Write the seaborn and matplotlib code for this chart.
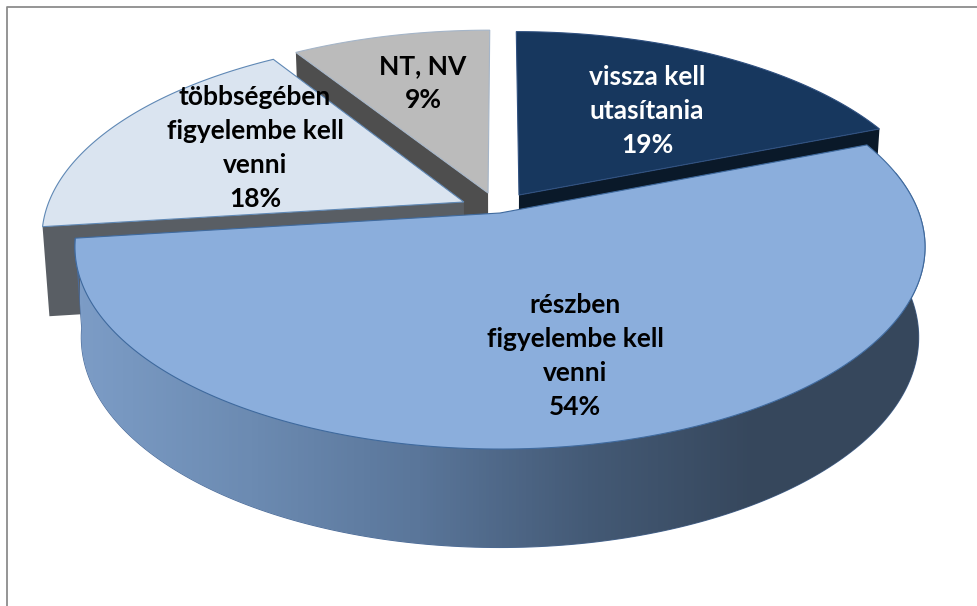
import numpy as np
import matplotlib.pyplot as plt
from matplotlib.patches import Polygon
import seaborn as sns

categories = ["vissza kell\nutasítania", "részben\nfigyelembe kell\nvenni", "többségében\nfigyelembe kell\nvenni", "NT, NV"]
values = [19, 54, 18, 9]

sns.set_theme(style="white")
plt.rcParams['font.family'] = ['Lato', 'DejaVu Sans']

top_colors = sns.color_palette(["#17375E", "#8BAEDC", "#DAE4F0", "#BBBBBB"])
side_colors = sns.color_palette(["#0A1929", "#36475C", "#595E64", "#4E4E4E"])
edge_colors = ["#2F5080", "#3F6A9E", "#5F88B5", "#A5B5C8"]
text_colors = ["white", "black", "black", "black"]

# how far each slice is pulled out, in units of the radius
pull_x = [0.046, 0.0, -0.087, -0.029]
pull_y = [0.093, 0.0, 0.0565, 0.1035]
label_xy = [(647, 111), (575, 356), (255, 148), (423, 83)]

# slant of the view
CX, A, B, K = 500, 419, 196.4, 0.168
TOP = (213, 1.0, 1.0)
BOTTOM = (302, 0.985, 1.04)


def project(theta, radius, px, py, level):
    y0, sx, sy = level
    x = radius * np.cos(theta) + px
    y = radius * np.sin(theta) + py
    w = 1 + K * y
    return CX + A * sx * x / w, y0 - B * sy * y / w


def rim(a, b, px, py, level):
    t = np.linspace(a, b, 200)
    return np.column_stack(project(t, 1.0, px, py, level))


fig = plt.figure(figsize=(9.78, 6.06), dpi=100)
ax = fig.add_axes([0, 0, 1, 1])

# slices run clockwise from twelve o'clock
ends = np.pi / 2 - np.cumsum(values) / np.sum(values) * 2 * np.pi
starts = np.r_[np.pi / 2, ends[:-1]]

# painted back to front
for z, i in enumerate([3, 2, 0, 1]):
    z = z + 2
    a, b, px, py = starts[i], ends[i], pull_x[i], pull_y[i]
    apex_top = np.array(project(0.0, 0.0, px, py, TOP))
    apex_bot = np.array(project(0.0, 0.0, px, py, BOTTOM))
    arc_top = rim(a, b, px, py, TOP)

    if i == 1:
        # outer wall of the big slice, shaded left to right
        wall_top = rim(b, b + np.radians(185), px, py, TOP)
        wall_bot = rim(b, b + np.radians(185), px, py, BOTTOM)
        wall = Polygon(np.vstack([wall_top, wall_bot[::-1]]), closed=True, facecolor="none",
                       edgecolor="#4A6A98", linewidth=0.8, zorder=z)
        ax.add_patch(wall)
        cmap = sns.blend_palette(["#7C9CC6", "#6C8BB2", "#5A769A", "#445A76", "#36475C", "#36475C"], as_cmap=True)
        im = ax.imshow(np.linspace(0, 1, 256).reshape(1, -1), cmap=cmap, aspect='auto',
                       extent=[80, 925, 560, 230], zorder=z)
        im.set_clip_path(wall)
    else:
        # cut face that looks at the viewer
        angle = b if i == 0 else a
        out_top = np.array(project(angle, 1.0, px, py, TOP))
        out_bot = np.array(project(angle, 1.0, px, py, BOTTOM))
        ax.add_patch(Polygon([apex_top, out_top, out_bot, apex_bot], closed=True,
                             facecolor=side_colors[i], edgecolor="none", zorder=z))

    ax.add_patch(Polygon(np.vstack([apex_top, arc_top]), closed=True, facecolor=top_colors[i],
                         edgecolor=edge_colors[i], linewidth=0.8, zorder=z))

ax.set_xlim(0, 978)
ax.set_ylim(606, 0)
ax.axis('off')

for i, name in enumerate(categories):
    ax.text(label_xy[i][0], label_xy[i][1], f"{name}\n{values[i]}%", color=text_colors[i], ha='center', va='center',
            fontsize=19, fontweight='bold', linespacing=1.5, zorder=20)

ax.plot([7, 7, 978], [606, 7, 7], color="#8C8C8C", linewidth=1.3, zorder=1)

fig.savefig('out.png', dpi=100)
